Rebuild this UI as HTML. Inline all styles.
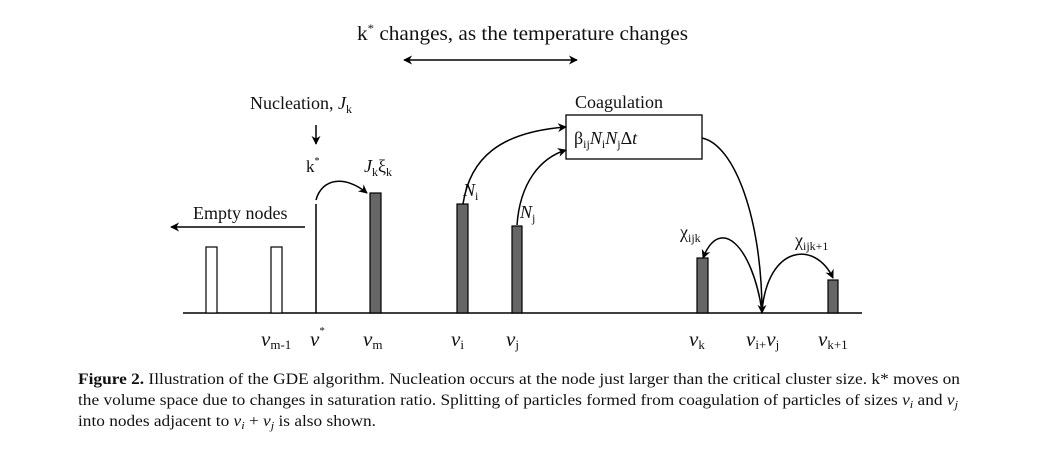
<!DOCTYPE html>
<html><head><meta charset="utf-8"><style>
html,body{margin:0;padding:0;background:#fff;}
svg{display:block;font-family:"Liberation Serif",serif;}
</style></head><body>
<svg width="1045" height="454" viewBox="0 0 1045 454" xmlns="http://www.w3.org/2000/svg">
<defs>
<marker id="ah" viewBox="0 0 10 10" refX="9" refY="5" markerWidth="9" markerHeight="9" orient="auto-start-reverse" markerUnits="userSpaceOnUse"><path d="M0,0 L10,5 L0,10 L3,5 z" fill="#000"/></marker>
</defs>
<g fill="#111">
<text x="357" y="40" font-size="20" textLength="331" lengthAdjust="spacingAndGlyphs">k<tspan dy="-8" font-size="12">*</tspan><tspan dy="8"> changes, as the temperature changes</tspan></text>
<text x="250" y="109" font-size="18">Nucleation, <tspan font-style="italic">J</tspan><tspan font-size="12" dy="4">k</tspan></text>
<text x="575" y="108" font-size="18">Coagulation</text>
<text x="306" y="172" font-size="17">k<tspan dy="-8" font-size="10">*</tspan></text>
<text x="364" y="172" font-size="18"><tspan font-style="italic">J</tspan><tspan font-size="12" dy="4">k</tspan><tspan dy="-4">ξ</tspan><tspan font-size="12" dy="4">k</tspan></text>
<text x="193" y="219" font-size="18">Empty nodes</text>
<text x="463" y="196" font-size="18"><tspan font-style="italic">N</tspan><tspan font-size="12" dy="4">i</tspan></text>
<text x="520" y="218" font-size="18"><tspan font-style="italic">N</tspan><tspan font-size="12" dy="4">j</tspan></text>
<text x="574" y="144" font-size="18">β<tspan font-size="12" dy="4">ij</tspan><tspan dy="-4" font-style="italic">N</tspan><tspan font-size="12" dy="4">i</tspan><tspan dy="-4" font-style="italic">N</tspan><tspan font-size="12" dy="4">j</tspan><tspan dy="-4">Δ</tspan><tspan font-style="italic">t</tspan></text>
<text x="680" y="238" font-size="18">χ<tspan font-size="12" dy="4">ijk</tspan></text>
<text x="795" y="246" font-size="18">χ<tspan font-size="12" dy="4">ijk+1</tspan></text>
<g font-size="21">
<text x="261" y="346"><tspan font-style="italic">v</tspan><tspan font-size="13" dy="3">m-1</tspan></text>
<text x="310" y="346"><tspan font-style="italic">v</tspan><tspan font-size="11" dy="-12">*</tspan></text>
<text x="363" y="346"><tspan font-style="italic">v</tspan><tspan font-size="13" dy="3">m</tspan></text>
<text x="451" y="346"><tspan font-style="italic">v</tspan><tspan font-size="13" dy="3">i</tspan></text>
<text x="506" y="346"><tspan font-style="italic">v</tspan><tspan font-size="13" dy="3">j</tspan></text>
<text x="689" y="346"><tspan font-style="italic">v</tspan><tspan font-size="13" dy="3">k</tspan></text>
<text x="746" y="346"><tspan font-style="italic">v</tspan><tspan font-size="13" dy="3">i+</tspan><tspan dy="-3" font-style="italic">v</tspan><tspan font-size="13" dy="3">j</tspan></text>
<text x="818" y="346"><tspan font-style="italic">v</tspan><tspan font-size="13" dy="3">k+1</tspan></text>
</g>
<g font-size="15.5">
<text x="78" y="384" textLength="882" lengthAdjust="spacingAndGlyphs"><tspan font-weight="bold">Figure 2.</tspan>   Illustration of the GDE algorithm. Nucleation occurs at the node just larger than the critical cluster size. k* moves on</text>
<text x="78" y="405" textLength="880" lengthAdjust="spacingAndGlyphs">the volume space due to changes in saturation ratio. Splitting of particles formed from coagulation of particles of sizes <tspan font-style="italic">v<tspan font-size="11" dy="3">i</tspan></tspan><tspan dy="-3"> and </tspan><tspan font-style="italic">v<tspan font-size="11" dy="3">j</tspan></tspan></text>
<text x="78" y="426" textLength="298" lengthAdjust="spacingAndGlyphs">into nodes adjacent to <tspan font-style="italic">v<tspan font-size="11" dy="3">i</tspan></tspan><tspan dy="-3"> + </tspan><tspan font-style="italic">v<tspan font-size="11" dy="3">j</tspan></tspan><tspan dy="-3"> is also shown.</tspan></text>
</g>
</g>
<g stroke="#000" stroke-width="1.5" fill="none">
<line x1="183" y1="313" x2="862" y2="313"/>
<line x1="404" y1="60" x2="577" y2="60" marker-start="url(#ah)" marker-end="url(#ah)"/>
<line x1="316" y1="125" x2="316" y2="144" marker-end="url(#ah)"/>
<line x1="305" y1="227" x2="171" y2="227" marker-end="url(#ah)"/>
<line x1="316" y1="204" x2="316" y2="313"/>
<rect x="566" y="115" width="136" height="44" stroke-width="1.3"/>
<path d="M316,200 C322,178 345,175 367,193" marker-end="url(#ah)"/>
<path d="M463,204 C470,158 500,132 566,127" marker-end="url(#ah)"/>
<path d="M517,225 C520,183 540,158 566,150" marker-end="url(#ah)"/>
<path d="M702,138 C735,145 762,220 762,313" marker-end="url(#ah)"/>
<path d="M762,311 C752,245 720,215 703,258" marker-end="url(#ah)"/>
<path d="M762,311 C768,245 815,240 833,278" marker-end="url(#ah)"/>
</g>
<g stroke="#000" stroke-width="1.2">
<rect x="206" y="247" width="11" height="66" fill="#fff"/>
<rect x="271" y="247" width="11" height="66" fill="#fff"/>
<rect x="370" y="193" width="11" height="120" fill="#666"/>
<rect x="457" y="204" width="11" height="109" fill="#666"/>
<rect x="512" y="226" width="10" height="87" fill="#666"/>
<rect x="697" y="258" width="11" height="55" fill="#666"/>
<rect x="828" y="280" width="10" height="33" fill="#666"/>
</g>
</svg>
</body></html>
